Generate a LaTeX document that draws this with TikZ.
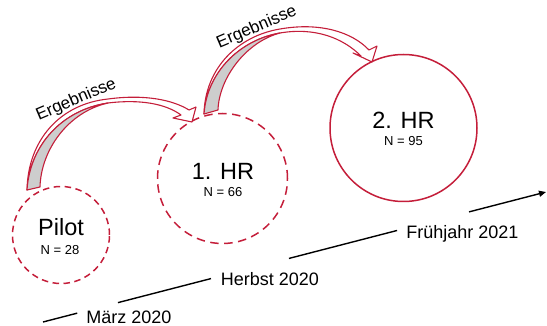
\documentclass[tikz,border=0pt]{standalone}
\usepackage{fontspec}
\setmainfont{Liberation Sans}
\usetikzlibrary{arrows.meta,calc}
\definecolor{hrred}{RGB}{196,30,58}
\definecolor{ribbongray}{RGB}{205,205,205}
\begin{document}
\begin{tikzpicture}[x=1pt,y=-1pt,
  pilotring/.style={circle,draw=hrred,line width=1.5pt,dash pattern=on 6.5pt off 4.5pt,inner sep=0pt},
  hrring/.style={circle,draw=hrred,line width=1.5pt,dash pattern=on 8.5pt off 5.5pt,inner sep=0pt},
  fullring/.style={circle,draw=hrred,line width=1.5pt,inner sep=0pt},
  ribbon/.style={draw=hrred,line width=1.1pt,line join=round,fill=white},
  ribbonback/.style={draw=hrred,line width=1.1pt,line join=round,fill=ribbongray},
  timeline/.style={draw=black,line width=1.4pt},
  datelabel/.style={font=\fontsize{18}{20}\selectfont,anchor=base,inner sep=0pt},
  arrowlabel/.style={font=\fontsize{17}{19}\selectfont,anchor=base,inner sep=0pt,rotate=23},
  title/.style={font=\fontsize{23.5}{26}\selectfont,anchor=base,inner sep=0pt},
  count/.style={font=\fontsize{13}{15}\selectfont,anchor=base,inner sep=0pt}]
\useasboundingbox (0,0) rectangle (547,326);

% survey waves
\node[pilotring,minimum size=97pt] (pilot) at (61,235) {};
\node[hrring,minimum size=130pt] (hr1) at (222.5,178.5) {};
\node[fullring,minimum size=147pt] (hr2) at (403.5,128) {};

\node[title] (pilotname) at (61,235.5) {Pilot};
\node[count] (pilotn) at (60,254.7) {N = 28};
\node[title] (hr1name) at (223,179.3) {1. HR};
\node[count] (hr1n) at (223,196.7) {N = 66};
\node[title] (hr2name) at (403.5,128.7) {2. HR};
\node[count] (hr2n) at (403.5,146) {N = 95};

% curved ribbon arrow: Pilot -> 1. HR
\coordinate (a1A) at (27,190);
\coordinate (a1C) at (40,187);
\coordinate (a1P) at (108,103);
\coordinate (a1O) at (108,99);
\coordinate (a1U) at (189,110);
\coordinate (a1L) at (181,115);
\coordinate (a1b1) at (196,107);
\coordinate (a1t) at (192,122);
\coordinate (a1b2) at (173,118);
\path[ribbon] (a1A) .. controls (28,140) and (60,104) .. (a1O)
  .. controls (145,94) and (173,100) .. (a1U) -- (a1b1) -- (a1t) -- (a1b2) -- (a1L)
  .. controls (166,104) and (141,99) .. (a1P)
  .. controls (62,110) and (30,145) .. (a1A) -- cycle;
\path[ribbonback] (a1A) .. controls (30,145) and (62,110) .. (a1P)
  .. controls (68,112) and (41,150) .. (a1C) -- cycle;

% curved ribbon arrow: 1. HR -> 2. HR
\coordinate (a2A) at (204,114);
\coordinate (a2C) at (218,110);
\coordinate (a2P) at (280,33);
\coordinate (a2O) at (280,29);
\coordinate (a2U) at (369,50);
\coordinate (a2L) at (361,56);
\coordinate (a2b1) at (377,46);
\coordinate (a2t) at (372,62);
\coordinate (a2b2) at (353,53);
\path[ribbon] (a2A) .. controls (205,68) and (238,36) .. (a2O)
  .. controls (320,22) and (352,32) .. (a2U) -- (a2b1) -- (a2t) -- (a2b2) -- (a2L)
  .. controls (343,38) and (315,27) .. (a2P)
  .. controls (240,40) and (207,72) .. (a2A) -- cycle;
\path[ribbonback] (a2A) .. controls (207,72) and (240,40) .. (a2P)
  .. controls (246,42) and (219,78) .. (a2C) -- cycle;

\node[arrowlabel] (res1) at (78,104) {Ergebnisse};
\node[arrowlabel] (res2) at (258.5,31.5) {Ergebnisse};

% time axis
\coordinate (t0) at (43,322);
\coordinate (t1) at (546,192);
\draw[timeline] (t0) -- ($(t0)!0.068!(t1)$);
\draw[timeline] ($(t0)!0.149!(t1)$) -- ($(t0)!0.334!(t1)$);
\draw[timeline] ($(t0)!0.489!(t1)$) -- ($(t0)!0.704!(t1)$);
\draw[timeline,-{Triangle[length=7pt,width=6pt]}] ($(t0)!0.847!(t1)$) -- (t1);

\node[datelabel] (d1) at (129,323.5) {März 2020};
\node[datelabel] (d2) at (270,286) {Herbst 2020};
\node[datelabel] (d3) at (462.5,239) {Frühjahr 2021};
\end{tikzpicture}
\end{document}
